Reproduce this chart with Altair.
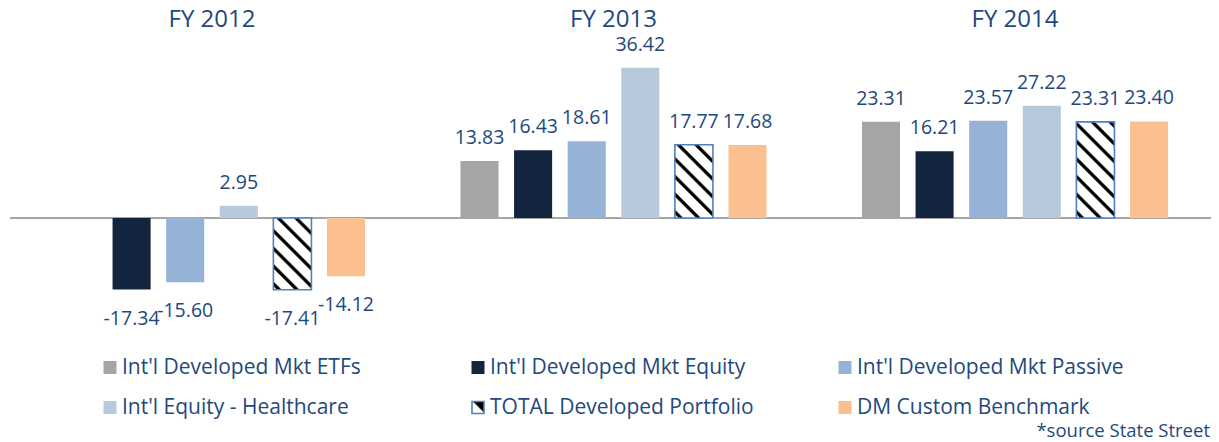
import math
import altair as alt
import pandas as pd

# ---------------- data ----------------
years = ["FY 2012", "FY 2013", "FY 2014"]
series = [
    "Int'l Developed Mkt ETFs",
    "Int'l Developed Mkt Equity",
    "Int'l Developed Mkt Passive",
    "Int'l Equity - Healthcare",
    "TOTAL Developed  Portfolio",
    "DM Custom Benchmark",
]
etfs = [None, 13.83, 23.31]
equity = [-17.34, 16.43, 16.21]
passive = [-15.60, 18.61, 23.57]
healthcare = [2.95, 36.42, 27.22]
total = [-17.41, 17.77, 23.31]
benchmark = [-14.12, 17.68, 23.40]
source_note = "*source State Street"

colors = ["#A5A5A5", "#13243F", "#95B3D7", "#B9C9DC", "#FFFFFF", "#FAC090"]
TXT = "#1F497D"
FONT = "Open Sans"

rows = []
for s, vals in zip(series, [etfs, equity, passive, healthcare, total, benchmark]):
    for y, v in zip(years, vals):
        if v is not None:
            rows.append({"year": y, "series": s, "value": v, "label": f"{v:.2f}"})
df = pd.DataFrame(rows)

# ---------------- layout ----------------
TOP = 8
W, H = 1203, 426
ZERO_Y = 202
PX = 4.125
YMAX = ZERO_Y / PX
YMIN = -(H - ZERO_Y) / PX

GSTEP = 401.5
xscale = alt.Scale(domain=years, range=[3.25, 3.25 + 3 * GSTEP], paddingInner=0, paddingOuter=0)
PI, PO = 0.29, 0.89
xoff = alt.Scale(domain=series, paddingInner=PI, paddingOuter=PO)
yscale = alt.Scale(domain=[YMIN, YMAX], nice=False, zero=False)
step_o = GSTEP / (6 - PI + 2 * PO)
BW = step_o * (1 - PI)

X = alt.X("year:N", scale=xscale, axis=None, sort=years)
XO = alt.XOffset("series:N", scale=xoff, sort=series)
Y = alt.Y("value:Q", scale=yscale, axis=None)


def stripes(w, h, period=12.5, dark=4.6, phase=2.0):
    L = (w + h) / math.sqrt(2)
    t = (w + h) / (w * w + h * h)
    stops = [{"offset": 0, "color": "white"}]
    s = phase
    while s < L:
        for d, c in [(0, "white"), (1.3, "black"), (dark - 1.3, "black"), (dark, "white")]:
            o = min(max((s + d) / L, 0), 1)
            stops.append({"offset": o, "color": c})
        s += period
    stops.append({"offset": 1, "color": "white"})
    return alt.LinearGradient(gradient="linear", stops=stops,
                              x1=0, y1=1, x2=t * w, y2=1 - t * h)


base = alt.Chart(df)

bars = base.transform_filter(alt.datum.series != series[4]).mark_bar().encode(
    x=X, xOffset=XO, y=Y,
    color=alt.Color("series:N", scale=alt.Scale(domain=series, range=colors), legend=None),
)

hatched = []
for yv, v in zip(years, total):
    hatched.append(
        base.transform_filter((alt.datum.series == series[4]) & (alt.datum.year == yv))
        .mark_bar(fill=stripes(BW, abs(v) * PX), stroke="#4F81BD", strokeWidth=1.6)
        .encode(x=X, xOffset=XO, y=Y)
    )

pos_lbl = base.transform_filter(alt.datum.value >= 0).mark_text(
    font=FONT, fontSize=19.5, color=TXT, baseline="alphabetic", dy=-17
).encode(x=X, xOffset=XO, y=Y, text="label:N")
neg_lbl = base.transform_filter(alt.datum.value < 0).mark_text(
    font=FONT, fontSize=19.5, color=TXT, baseline="alphabetic", dy=35
).encode(x=X, xOffset=XO, y=Y, text="label:N")

zero = alt.Chart(pd.DataFrame({"z": [0]})).mark_rule(color="#A6A6A6", strokeWidth=2).encode(
    y=alt.Y("z:Q", scale=yscale, axis=None), x=alt.value(2), x2=alt.value(W)
)

titles = alt.Chart(pd.DataFrame({"year": years})).mark_text(
    font=FONT, fontSize=24, color=TXT, baseline="alphabetic"
).encode(x=X, y=alt.value(11), text="year:N")

# legend (manual, 3 columns x 2 rows)
leg = pd.DataFrame({"series": series, "i": list(range(len(series)))})
col_sq = [102, 470, 837]
col_tx = [114, 482, 849]
row_y = [351.5, 391.5]
leg_base = alt.Chart(leg).transform_calculate(
    col="datum.i % 3", row="floor(datum.i / 3)"
).transform_calculate(
    sx=f"[{','.join(map(str, col_sq))}][datum.col]",
    tx=f"[{','.join(map(str, col_tx))}][datum.col]",
    ly=f"[{','.join(map(str, row_y))}][datum.row]",
)
leg_sq = leg_base.transform_filter(alt.datum.i != 4).mark_square(size=169, opacity=1).encode(
    x=alt.X("sx:Q", scale=None), y=alt.Y("ly:Q", scale=None),
    color=alt.Color("series:N", scale=alt.Scale(domain=series, range=colors), legend=None),
)
leg_tot = leg_base.transform_filter(alt.datum.i == 4).mark_square(
    size=144, opacity=1, stroke="#4F81BD", strokeWidth=1.6,
    fill=alt.LinearGradient(gradient="linear", x1=0, y1=1, x2=1, y2=0, stops=[
        {"offset": 0, "color": "white"}, {"offset": 0.5, "color": "white"},
        {"offset": 0.58, "color": "black"}, {"offset": 1, "color": "black"}]),
).encode(x=alt.X("sx:Q", scale=None), y=alt.Y("ly:Q", scale=None))
leg_tx = leg_base.mark_text(
    font=FONT, fontSize=21, color=TXT, align="left", baseline="middle"
).encode(x=alt.X("tx:Q", scale=None), y=alt.Y("ly:Q", scale=None), text="series:N")

src = alt.Chart(pd.DataFrame({"t": [source_note]})).mark_text(
    font=FONT, fontSize=18.5, color=TXT, align="right", baseline="alphabetic"
).encode(x=alt.value(W - 1), y=alt.value(421), text="t:N")

chart = alt.layer(
    zero, bars, *hatched, pos_lbl, neg_lbl, titles, leg_sq, leg_tot, leg_tx, src
).properties(
    width=W, height=H,
    padding={"top": TOP, "left": 0, "right": 0, "bottom": 0},
    autosize=alt.AutoSizeParams(type="none"),
).configure_view(stroke=None)

chart.save("out.html", embed_options={"renderer": "svg", "actions": False})
